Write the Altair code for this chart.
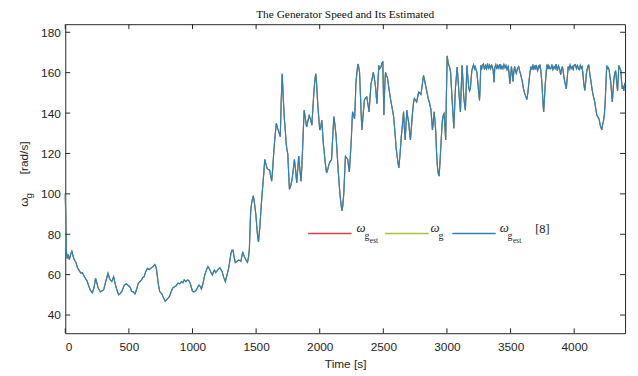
import altair as alt
import pandas as pd

# ---------------- data ----------------
time_s = [0, 4, 8, 14, 22, 32, 42, 52, 62, 72, 84, 96, 110, 122, 134, 146, 160, 172, 184, 196,
          212, 226, 238, 248, 258, 276, 290, 302, 318, 336, 346, 354, 367, 380, 398, 419, 432, 444, 456, 465,
          480, 496, 510, 522, 536, 548, 562, 574, 586, 599, 610, 620, 632, 646, 660, 677, 690, 703, 712, 718,
          730, 742, 752, 760, 772, 786, 800, 819, 832, 845, 860, 872, 884, 900, 915, 925, 935, 948, 961, 972,
          982, 992, 1000, 1012, 1026, 1038, 1052, 1062, 1070, 1082, 1096, 1108, 1121, 1132, 1142, 1150, 1157, 1165, 1173, 1181,
          1189, 1200, 1214, 1224, 1233, 1246, 1258, 1270, 1284, 1294, 1302, 1310, 1318, 1328, 1336, 1348, 1362, 1372, 1380, 1388,
          1395, 1404, 1413, 1422, 1432, 1440, 1447, 1452, 1457, 1466, 1478, 1488, 1499, 1505, 1509, 1514, 1519, 1524, 1530, 1540,
          1550, 1560, 1568, 1578, 1587, 1597, 1607, 1614, 1622, 1630, 1638, 1648, 1659, 1666, 1674, 1682, 1690, 1697, 1705, 1713,
          1723, 1730, 1736, 1742, 1749, 1756, 1762, 1772, 1783, 1792, 1801, 1810, 1819, 1827, 1835, 1844, 1853, 1860, 1866, 1872,
          1878, 1888, 1897, 1907, 1917, 1928, 1938, 1947, 1956, 1963, 1969, 1975, 1982, 1991, 2000, 2008, 2016, 2022, 2028, 2035,
          2041, 2048, 2054, 2063, 2072, 2082, 2093, 2102, 2111, 2120, 2129, 2137, 2145, 2154, 2163, 2170, 2176, 2182, 2189, 2196,
          2202, 2210, 2220, 2226, 2233, 2240, 2248, 2253, 2258, 2266, 2274, 2280, 2284, 2292, 2300, 2306, 2313, 2322, 2331, 2341,
          2351, 2360, 2370, 2380, 2388, 2396, 2403, 2412, 2421, 2430, 2439, 2445, 2450, 2457, 2465, 2472, 2481, 2488, 2496, 2500,
          2504, 2510, 2517, 2524, 2532, 2541, 2550, 2559, 2568, 2575, 2581, 2588, 2594, 2600, 2607, 2614, 2622, 2632, 2641, 2650,
          2659, 2665, 2672, 2678, 2685, 2692, 2700, 2707, 2713, 2722, 2731, 2737, 2744, 2752, 2762, 2770, 2778, 2787, 2796, 2806,
          2816, 2825, 2835, 2844, 2853, 2863, 2873, 2880, 2886, 2892, 2899, 2906, 2912, 2918, 2925, 2932, 2938, 2944, 2951, 2957,
          2964, 2971, 2977, 2984, 2990, 2996, 3002, 3009, 3016, 3022, 3029, 3035, 3041, 3048, 3054, 3060, 3067, 3074, 3080, 3087,
          3093, 3100, 3106, 3112, 3119, 3126, 3132, 3139, 3145, 3151, 3157, 3164, 3171, 3178, 3184, 3190, 3196, 3202, 3209, 3216,
          3222, 3229, 3235, 3243, 3250, 3256, 3261, 3266, 3272, 3278, 3287, 3295, 3303, 3311, 3319, 3327, 3335, 3343, 3351, 3358,
          3364, 3370, 3376, 3384, 3392, 3400, 3408, 3416, 3424, 3432, 3440, 3448, 3456, 3464, 3472, 3481, 3488, 3494, 3500, 3507,
          3513, 3519, 3525, 3532, 3538, 3545, 3552, 3558, 3564, 3571, 3580, 3592, 3600, 3610, 3618, 3628, 3636, 3643, 3652, 3661,
          3668, 3675, 3681, 3687, 3694, 3700, 3707, 3713, 3720, 3725, 3731, 3738, 3742, 3747, 3754, 3760, 3766, 3773, 3780, 3786,
          3793, 3800, 3808, 3817, 3825, 3833, 3842, 3850, 3858, 3868, 3876, 3885, 3894, 3900, 3907, 3913, 3920, 3928, 3938, 3945,
          3953, 3960, 3968, 3976, 3984, 3992, 4000, 4010, 4018, 4026, 4034, 4041, 4048, 4055, 4062, 4068, 4075, 4083, 4090, 4095,
          4101, 4108, 4114, 4120, 4126, 4132, 4140, 4147, 4154, 4160, 4170, 4178, 4187, 4196, 4205, 4210, 4217, 4223, 4230, 4237,
          4243, 4250, 4256, 4262, 4269, 4276, 4281, 4287, 4294, 4300, 4307, 4313, 4320, 4326, 4333, 4341, 4346, 4351, 4358, 4367,
          4372, 4378, 4384, 4390, 4398]

speed = [100, 88, 72, 68, 70, 67.5, 70, 71.6, 69, 67.2, 66, 63.5, 62, 60.8, 61, 59.5, 58, 56.8, 54.5, 52.5,
         51, 53.5, 58.2, 56, 53.4, 51.5, 52, 52.6, 56.5, 60.7, 58.5, 57.4, 56.6, 59, 54, 50, 50.6, 51.7, 53.5, 54.9,
         55.5, 54.6, 53.8, 51.7, 51.5, 50.4, 53, 55.8, 56.5, 57.4, 58.6, 59, 61.5, 63.1, 62.5, 63.4, 64, 65, 64, 62.3,
         56, 51.7, 51, 50.4, 48.5, 46.8, 47.8, 49.2, 51.5, 53.4, 54, 54.5, 55.8, 55.5, 56.6, 56, 57.4, 56.5, 57.4, 57,
         55.8, 53.5, 51.7, 51.5, 52, 53.5, 54.9, 54, 52.9, 55.5, 59.8, 62, 64, 63, 61.5, 60.5, 59.8, 61.5, 62.3, 61,
         61.5, 62.5, 63.4, 62.5, 61.5, 58.5, 56.6, 59.5, 63.1, 67, 70.5, 72.1, 72.1, 68.5, 66, 66.5, 67.2, 67, 66.6, 69,
         71.3, 69.5, 68.2, 67, 66.1, 68.5, 72.6, 82, 90.9, 96, 99, 95, 89.2, 84, 81, 78, 76.2, 80, 84.1, 94,
         102, 110, 117, 114.5, 112.6, 112, 111.7, 109, 106.3, 112, 119.8, 128, 134.9, 133, 131.6, 130, 128.3, 145, 159.4, 148,
         136.4, 131, 125.1, 122, 119.8, 110, 102.3, 104, 107.2, 112, 117, 112, 105.5, 112, 118.7, 112, 106.3, 114, 123.3, 133,
         141.4, 137, 133.1, 136, 138.8, 137, 134, 143, 152, 157, 159.4, 155, 147, 139, 131.6, 133, 136.4, 131, 125.1, 121,
         117, 113, 110.4, 112, 114.5, 116, 117, 128, 138.2, 134, 128.3, 120, 111.7, 104, 97.4, 93.5, 91.7, 94.5, 100.1, 110,
         118.6, 118, 117, 114, 110.9, 118, 126.7, 134, 140.6, 139, 137.2, 146, 154.5, 160, 164.3, 163, 160.2, 146, 131.6, 139,
         146.3, 147.5, 148, 144, 140.6, 148, 154.5, 157, 160.2, 157, 152.8, 148, 144.7, 155, 163.5, 162, 162.8, 164.5, 165.6, 152,
         139, 151, 160.2, 158.5, 157.7, 153.5, 149.6, 146, 143, 140.5, 138.2, 133, 128.4, 123, 119.4, 116, 112.9, 120, 128.3, 134,
         140.6, 133, 126.7, 134, 141.4, 138, 134.9, 130, 126.7, 134, 141.4, 145, 147.2, 146.5, 145.5, 148, 150.4, 150, 149.2, 154,
         158.6, 156, 152.8, 150, 147, 145, 142.1, 137, 131.6, 135, 140.6, 136, 130.8, 121, 113.7, 110, 108.8, 114, 122.3, 129,
         136.4, 139, 139.8, 133, 126.7, 150, 168.3, 165, 163.5, 162.5, 160, 153, 146.3, 139, 132.5, 142, 152.8, 158, 162.8, 157,
         151.2, 145, 140.6, 152, 163.5, 156, 148, 144, 141.4, 152, 163.5, 158, 152.8, 151, 152, 157, 161.2, 162.5, 163.9, 162,
         163, 161.5, 160.2, 155, 150, 146.3, 153, 163.5, 161.5, 163.8, 164.3, 161.5, 163.5, 162, 164.5, 161.8, 163.7, 162, 164, 162.3,
         161, 155.3, 162.5, 164, 161.8, 163.6, 162.2, 164.2, 161.7, 163.3, 162, 164, 162.4, 163.6, 161.5, 163, 160, 154.5, 158, 163,
         160, 155.7, 160, 163, 161, 159.7, 161.5, 162.5, 163, 161, 159, 155.7, 152.5, 150, 148.5, 146.7, 150, 154.5, 160, 163,
         161.5, 164, 162, 163, 161.6, 163.8, 162, 161, 163.5, 162.2, 164, 161, 158, 154.5, 146, 140.6, 147, 154.5, 160, 164,
         161.8, 163.6, 162, 162, 164, 161.5, 163, 162, 164.2, 161, 163.4, 162, 159, 161.5, 163, 161, 157.5, 155, 152, 157,
         163, 161.7, 163.8, 162, 163, 161.6, 163.7, 164, 162, 163.5, 161.8, 161.5, 163.6, 162.2, 163, 160, 155, 151.2, 155, 159,
         161.5, 163, 164, 161, 158, 155.7, 152, 149.6, 147.5, 146, 142, 139, 138, 137, 134, 133, 131.6, 134, 136, 139,
         144.3, 155, 163.5, 162, 162.5, 161, 158, 155.7, 150, 145.5, 152, 157.3, 160, 161, 156, 151, 157, 163.5, 162.5, 161,
         156, 152, 153, 151, 155]

x_ticks = [0, 500, 1000, 1500, 2000, 2500, 3000, 3500, 4000]
y_ticks = [40, 60, 80, 100, 120, 140, 160, 180]

series_names = ["ω_g_est", "ω_g", "ω_g_est [8]"]
series_colors = ["#d9404a", "#a9c244", "#2e7fbe"]

title_text = "The Generator Speed and Its Estimated"
x_title = "Time [s]"
y_title_parts = ["ω", "g", "[rad/s]"]

# ---------------- layout ----------------
W, H = 567, 313
AX = "#262626"
SANS = "Liberation Sans"
SERIF = "Liberation Serif"

df = pd.DataFrame({"t": time_s, "v": speed})

xs = alt.Scale(domain=[0, 4400], nice=False, zero=False)
ys = alt.Scale(domain=[31, 184], nice=False, zero=False)

X = alt.X("t:Q", scale=xs, axis=alt.Axis(values=x_ticks, title=x_title, grid=False, ticks=False,
                                         domain=False, labelPadding=9, titlePadding=6, format="d"))
Y = alt.Y("v:Q", scale=ys, axis=alt.Axis(values=y_ticks, title=None, grid=False, ticks=False,
                                         domain=False, labelPadding=5))

base = alt.Chart(df)
line_red = base.mark_line(color=series_colors[0], strokeWidth=1.0).encode(x=X, y=Y)
line_green = base.mark_line(color=series_colors[1], strokeWidth=1.1).encode(x=X, y=Y)
line_blue = base.mark_line(color=series_colors[2], strokeWidth=1.2).encode(x=X, y=Y)

# inward tick marks on all four sides (MATLAB box style)
xt = pd.DataFrame({"t": x_ticks})
yt = pd.DataFrame({"v": y_ticks})
tick_b = alt.Chart(xt).mark_rule(color=AX, strokeWidth=1).encode(x=X, y=alt.value(H), y2=alt.value(H - 5))
tick_t = alt.Chart(xt).mark_rule(color=AX, strokeWidth=1).encode(x=X, y=alt.value(0), y2=alt.value(5))
tick_l = alt.Chart(yt).mark_rule(color=AX, strokeWidth=1).encode(y=Y, x=alt.value(0), x2=alt.value(5))
tick_r = alt.Chart(yt).mark_rule(color=AX, strokeWidth=1).encode(y=Y, x=alt.value(W - 5), x2=alt.value(W))


def txt(s, x, y, size, font=SERIF, italic=False, angle=None, color="#1a1a1a", align="left"):
    kw = dict(align=align, baseline="alphabetic", font=font, fontSize=size,
              fontStyle="italic" if italic else "normal", color=color)
    if angle is not None:
        kw["angle"] = angle
    return alt.Chart(pd.DataFrame({"s": [s]})).mark_text(**kw).encode(
        x=alt.value(x), y=alt.value(y), text="s:N")


def seg(x1, x2, y, color):
    return alt.Chart(pd.DataFrame({"a": [0]})).mark_rule(strokeWidth=1.5).encode(
        x=alt.value(x1), x2=alt.value(x2), y=alt.value(y), color=alt.value(color))


layers = [line_red, line_green, line_blue, tick_b, tick_t, tick_l, tick_r]

# legend (inside the axes, no box)
ly = 212
leg_x = [246, 324, 392]
for i, lx in enumerate(leg_x):
    layers.append(seg(lx, lx + 44, ly, series_colors[i]))
wx = [295, 370, 440]
layers += [
    txt("ω", wx[0], 210, 13, italic=True), txt("g", wx[0] + 8, 218, 10), txt("est", wx[0] + 13.5, 221.5, 7.5),
    txt("ω", wx[1], 210, 13, italic=True), txt("g", wx[1] + 8, 218, 10),
    txt("ω", wx[2], 210, 13, italic=True), txt("g", wx[2] + 8, 218, 10), txt("est", wx[2] + 13.5, 221.5, 7.5),
    txt("[8]", 476, 211, 12.5),
]

# y-axis title with subscript (rotated)
layers += [
    txt(y_title_parts[0], -37.5, 185, 12, font=SANS, angle=270, color=AX),
    txt(y_title_parts[1], -34, 176.5, 10, font=SANS, angle=270, color=AX),
    txt(y_title_parts[2], -37.5, 152, 12, font=SANS, angle=270, color=AX),
]

# chart title
layers.append(txt(title_text, W / 2, -6, 11.5, color="#111111", align="center"))

chart = alt.layer(*layers).properties(
    width=W, height=H,
    autosize=alt.AutoSizeParams(type="none"),
    padding={"left": 58, "top": 14, "right": 5, "bottom": 47},
    background="white",
).configure_view(stroke=AX, strokeWidth=1).configure_axis(
    labelFont=SANS, labelFontSize=12, labelColor=AX,
    titleFont=SANS, titleFontSize=12, titleColor=AX, titleFontWeight="normal",
)

chart.save("out.html", embed_options={"renderer": "svg", "actions": False})
